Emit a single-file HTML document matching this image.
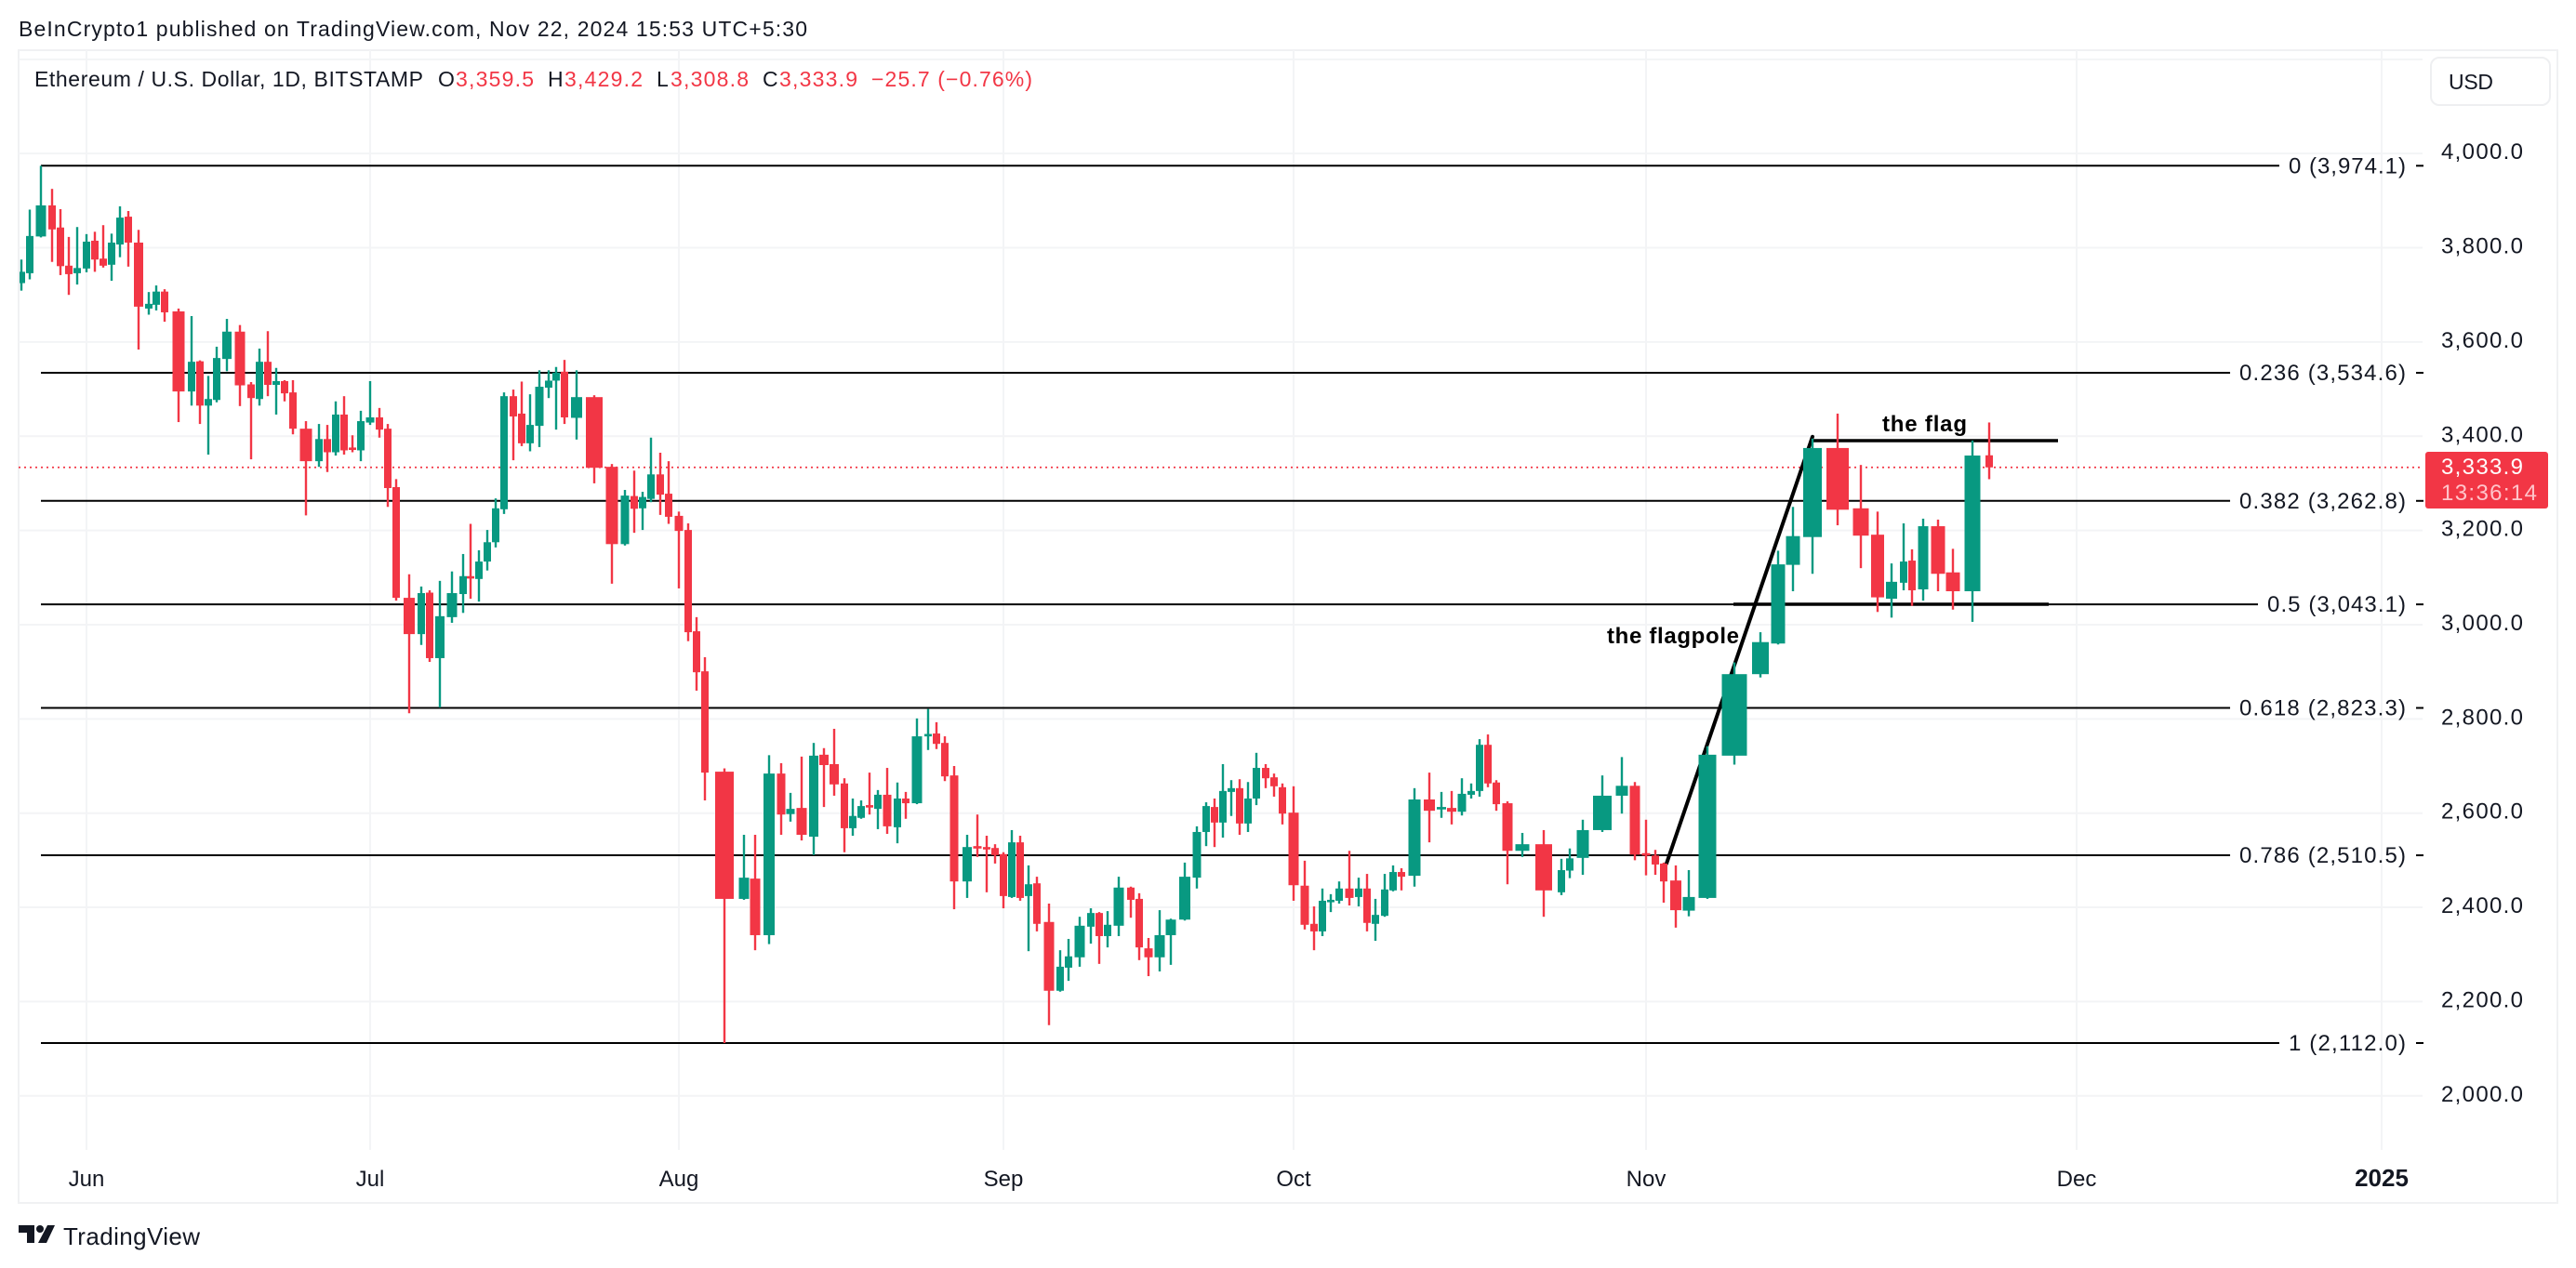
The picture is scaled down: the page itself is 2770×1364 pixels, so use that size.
<!DOCTYPE html>
<html lang="en">
<head>
<meta charset="utf-8">
<title>Ethereum / U.S. Dollar chart</title>
<style>
html,body{margin:0;padding:0;background:#fff}
svg{display:block;font-family:"Liberation Sans",sans-serif}
</style>
</head>
<body>
<svg id="chart" xmlns="http://www.w3.org/2000/svg" width="2770" height="1364" viewBox="0 0 2770 1364">
  <rect x="0" y="0" width="2770" height="1364" fill="#ffffff"/>
  <text x="20" y="39" font-size="23" fill="#131722" textLength="848" lengthAdjust="spacing">BeInCrypto1 published on TradingView.com, Nov 22, 2024 15:53 UTC+5:30</text>
  <rect x="20" y="54" width="2730" height="1240" fill="none" stroke="#f0f1f3" stroke-width="2"/>
  <defs><clipPath id="plot-clip"><rect x="21" y="55" width="2584" height="1182"/></clipPath></defs>
  <g id="grid"></g>
  <g id="levels"></g>
  <g id="annotations"></g>
  <g id="candles" clip-path="url(#plot-clip)"></g>
  <g id="axis-y"></g>
  <g id="axis-x"></g>

  <g font-size="23">
    <text x="37" y="93" fill="#131722" textLength="418" lengthAdjust="spacing">Ethereum / U.S. Dollar, 1D, BITSTAMP</text>
    <text x="471" y="93" fill="#131722">O</text>
    <text x="490" y="93" fill="#f23645" textLength="84" lengthAdjust="spacing">3,359.5</text>
    <text x="589" y="93" fill="#131722">H</text>
    <text x="607" y="93" fill="#f23645" textLength="84" lengthAdjust="spacing">3,429.2</text>
    <text x="706" y="93" fill="#131722">L</text>
    <text x="721" y="93" fill="#f23645" textLength="84" lengthAdjust="spacing">3,308.8</text>
    <text x="820" y="93" fill="#131722">C</text>
    <text x="838" y="93" fill="#f23645" textLength="84" lengthAdjust="spacing">3,333.9</text>
    <text x="937" y="93" fill="#f23645" textLength="173" lengthAdjust="spacing">−25.7 (−0.76%)</text>
  </g>

  <g>
    <rect x="2614" y="62" width="128" height="51" rx="9" fill="#ffffff" stroke="#eeeff1" stroke-width="2"/>
    <text x="2633" y="96" font-size="23" fill="#131722" textLength="48" lengthAdjust="spacing">USD</text>
  </g>

  <g>
    <rect x="2608" y="486" width="132" height="61" rx="3" fill="#f23645"/>
    <text x="2625" y="510" font-size="24" fill="#ffffff" textLength="88" lengthAdjust="spacing">3,333.9</text>
    <text x="2625" y="538" font-size="24" fill="#ffc4ca" textLength="103" lengthAdjust="spacing">13:36:14</text>
  </g>

  <g>
    <path fill="#131722" d="M20 1318h17v19h-8v-11h-9z M51 1318h8l-9 19h-9z"/>
    <circle cx="43" cy="1322" r="4" fill="#131722"/>
    <text x="68" y="1339" font-size="26" fill="#131722" textLength="147" lengthAdjust="spacing">TradingView</text>
  </g>
</svg>

<script>
// Bar position on the chart's time axis, in days from 1 June
var barDays = [-7.0,-6.1,-4.9,-3.7,-2.8,-1.9,-1.0,0,0.9,1.8,2.7,3.6,4.5,5.6,6.7,7.5,8.4,9.9,11.3,12.2,13.1,14.0,15.1,16.5,17.7,18.6,19.5,20.4,21.3,22.2,23.6,25.0,25.9,26.8,27.7,28.6,29.5,30.5,31.5,32.4,33.3,34.7,
36.0,36.9,38.0,39.3,40.5,41.3,42.2,43.1,44.0,44.9,45.9,46.8,47.7,48.7,49.7,50.5,51.4,52.7,54.6,56.5,57.9,58.9,59.8,60.7,61.7,62.6,63.7,64.7,65.6,66.5,68.6,70.7,71.9,73.4,74.7,
75.7,76.9,78.2,79.3,80.4,81.5,82.4,83.3,84.2,85.1,86.1,87.2,88.1,89.3,90.5,91.4,92.3,93.3,94.7,95.8,96.8,97.7,98.6,99.5,100.4,101.3,102.2,103.5,104.7,105.6,106.8,108.0,108.9,109.8,111.0,112.3,113.2,114.2,115.4,116.6,118.1,119.4,120.4,121.3,122.2,123.1,124.0,124.9,125.8,126.8,127.7,128.6,129.8,131.0,132.0,132.9,133.8,134.7,135.8,136.8,137.7,138.6,139.6,140.5,141.4,142.8,144.4,145.7,146.8,147.9,148.9,149.8,150.7,151.6,152.8,154.4,156.7,
158.6,159.5,160.9,163.0,165.1,166.5,167.7,168.7,169.6,170.9,172.3,174.3,177.2,180.0,181.9,183.5,185.6,188.3,190.8,192.6,194.1,195.4,196.3,197.5,199.1,200.7,202.8,204.6];

var barOpens = [3725,3746,3824,3890,3843,3762,3746,3756,3815,3777,3764,3807,3866,3811,3671,3679,3707,3665,3495,3559,3465,3477,3564,3622,3510,3479,3558,3509,3517,3493,3416,3347,3394,3366,3446,3376,3370,3429,3440,3416,3292,3057,
2980,3068,2929,3016,3065,3103,3097,3134,3175,3245,3485,3448,3385,3422,3503,3518,3537,3439,3483,3335,3171,3273,3247,3267,3319,3278,3231,3201,2986,2901,2688,2418,2461,2341,2684,
2598,2611,2550,2724,2704,2663,2568,2590,2617,2609,2639,2570,2631,2621,2765,2769,2749,2680,2455,2530,2528,2526,2513,2422,2538,2424,2451,2369,2223,2272,2294,2359,2388,2339,2361,2442,2418,2313,2294,2341,2374,2463,2560,2613,2580,2645,2653,2578,2631,2696,2676,2655,2601,2446,2365,2349,2413,2414,2440,2422,2440,2365,2382,2436,2475,2467,2629,2609,2611,2603,2639,2647,2745,2665,2621,2520,2534,2432,
2478,2505,2564,2637,2658,2515,2510,2493,2457,2393,2420,2722,2895,2960,3127,3186,3375,3247,3191,3055,3089,3136,3075,3209,3111,3071,3359.5];

var barHighs = [3775,3881,3974,3925,3882,3823,3844,3829,3834,3848,3830,3888,3878,3838,3706,3720,3712,3671,3655,3561,3528,3590,3649,3636,3515,3586,3623,3545,3519,3519,3432,3426,3424,3474,3485,3402,3454,3517,3460,3426,3309,3107,
3081,3073,3093,3113,3150,3214,3158,3201,3268,3493,3499,3516,3489,3540,3540,3547,3562,3540,3487,3341,3286,3327,3282,3397,3365,3347,3240,3215,3016,2931,2695,2554,2554,2723,2706,
2643,2720,2749,2738,2779,2674,2631,2627,2686,2649,2696,2665,2645,2801,2821,2793,2763,2700,2554,2597,2552,2534,2517,2564,2552,2489,2465,2408,2309,2333,2380,2398,2390,2392,2465,2444,2430,2335,2394,2376,2495,2572,2623,2631,2704,2670,2672,2666,2728,2704,2684,2663,2657,2499,2402,2440,2428,2455,2520,2463,2471,2418,2471,2489,2483,2653,2686,2645,2647,2674,2663,2757,2767,2670,2625,2558,2564,2503,
2525,2586,2680,2719,2666,2586,2522,2495,2489,2479,2742,2920,2984,3157,3250,3395,3448,3339,3240,3130,3215,3160,3225,3223,3161,3391,3429.2];

var barLows = [3709,3733,3822,3770,3742,3700,3722,3748,3749,3758,3730,3780,3760,3584,3658,3667,3643,3430,3465,3426,3361,3472,3538,3464,3351,3465,3485,3446,3474,3404,3232,3335,3324,3359,3361,3366,3347,3424,3397,3250,3051,2812,
2957,2921,2824,3004,3025,3055,3049,3115,3164,3235,3349,3379,3368,3377,3481,3414,3426,3393,3300,3087,3168,3195,3201,3260,3233,3214,3077,2965,2860,2627,2112,2416,2309,2322,2554,
2582,2542,2511,2613,2637,2517,2552,2588,2597,2566,2556,2536,2588,2619,2734,2736,2668,2396,2420,2507,2432,2493,2398,2420,2414,2307,2349,2150,2221,2244,2274,2323,2280,2315,2339,2378,2288,2254,2264,2278,2372,2440,2530,2528,2548,2594,2554,2560,2617,2653,2635,2576,2414,2353,2309,2339,2390,2408,2404,2402,2349,2329,2380,2434,2436,2444,2538,2590,2576,2595,2631,2635,2655,2605,2449,2507,2380,2426,
2462,2469,2560,2599,2500,2468,2469,2410,2357,2381,2418,2703,2888,2958,3071,3108,3211,3120,3027,3015,3073,3040,3051,3071,3032,3006,3308.8];

var barCloses = [3749,3825,3890,3839,3761,3744,3757,3813,3775,3762,3811,3864,3811,3675,3681,3707,3663,3495,3558,3465,3479,3566,3622,3508,3481,3558,3509,3517,3491,3416,3347,3394,3366,3446,3370,3374,3432,3440,3414,3290,3057,2980,
3067,2929,3018,3067,3103,3100,3134,3175,3247,3485,3442,3385,3424,3505,3518,3535,3440,3483,3333,3171,3274,3246,3271,3319,3276,3229,3199,2984,2899,2686,2418,2463,2341,2684,2597,
2609,2554,2722,2702,2661,2568,2594,2615,2615,2639,2572,2631,2621,2763,2768,2747,2678,2455,2528,2527,2525,2511,2424,2538,2420,2449,2365,2223,2274,2296,2361,2388,2339,2363,2442,2416,2315,2294,2341,2374,2465,2560,2615,2580,2647,2653,2578,2631,2696,2674,2657,2599,2447,2363,2349,2414,2416,2440,2420,2440,2367,2384,2438,2475,2465,2629,2605,2613,2603,2641,2647,2745,2663,2619,2520,2534,2436,2479,
2504,2564,2637,2658,2512,2513,2491,2455,2394,2422,2724,2895,2963,3128,3188,3375,3244,3189,3058,3091,3134,3073,3209,3108,3071,3359,3333.9];

var priceTicks = [2000,2200,2400,2600,2800,3000,3200,3400,3600,3800,4000];
var priceTickLabels = ['2,000.0','2,200.0','2,400.0','2,600.0','2,800.0','3,000.0','3,200.0','3,400.0','3,600.0','3,800.0','4,000.0'];
var extraGridPrices = [4200];
var timeTickDays = [0,30.5,63.7,98.6,129.8,167.7,214.0,246.8];
var timeTickLabels = ['Jun','Jul','Aug','Sep','Oct','Nov','Dec','2025'];
var fibRatios = ['0','0.236','0.382','0.5','0.618','0.786','1'];
var fibPrices = [3974.1,3534.6,3262.8,3043.1,2823.3,2510.5,2112.0];
var fibLabels = ['0 (3,974.1)','0.236 (3,534.6)','0.382 (3,262.8)','0.5 (3,043.1)','0.618 (2,823.3)','0.786 (2,510.5)','1 (2,112.0)'];
var fibStartDay = -4.9;
var lastPrice = 3333.9;
var flagpoleDays = [169.9,185.6];
var flagpolePrices = [2493,3399];
var flagTopDays = [185.6,212.0];
var flagTopPrice = 3390.7;
var flagBottomDays = [177.1,211.0];
var flagBottomPrice = 3043.3;

var UP = '#089981', DOWN = '#f23645', INK = '#131722', GRID = '#f3f4f6';
var PLOT_LEFT = 20, PLOT_RIGHT = 2605, PLOT_TOP = 54, PLOT_BOTTOM = 1237;
function xScale(day){ return 93 + day * 10; }
function yScale(price){ return 178.3 + (3974.1 - price) * 0.5068; }

var NS = 'http://www.w3.org/2000/svg';
function make(tag, parent, props, text){
  var el = document.createElementNS(NS, tag);
  for (var k in props) el.setAttribute(k, props[k]);
  if (text !== undefined) el.textContent = text;
  parent.appendChild(el);
  return el;
}

var gridG = document.getElementById('grid');
var levelsG = document.getElementById('levels');
var annoG = document.getElementById('annotations');
var candlesG = document.getElementById('candles');
var axisY = document.getElementById('axis-y');
var axisX = document.getElementById('axis-x');

// Grid
priceTicks.concat(extraGridPrices).forEach(function(p){
  var line = make('line', gridG, {x1:PLOT_LEFT, x2:PLOT_RIGHT, y1:yScale(p), y2:yScale(p), stroke:GRID, 'stroke-width':2});
  
  
});
timeTickDays.forEach(function(d){
  var line = make('line', gridG, {x1:xScale(d), x2:xScale(d), y1:PLOT_TOP, y2:PLOT_BOTTOM, stroke:GRID, 'stroke-width':2});
  
  
});

// Axis labels
priceTicks.forEach(function(p, i){
  var t = make('text', axisY, {x:2625, y:yScale(p) + 6, 'font-size':24, fill:INK, textLength:88, lengthAdjust:'spacing'}, priceTickLabels[i]);
  
  
});
timeTickDays.forEach(function(d, i){
  var isYear = timeTickLabels[i] === '2025';
  var t = make('text', axisX, {x:xScale(d), y:1276, 'font-size':isYear ? 26 : 24, fill:INK, 'text-anchor':'middle', 'font-weight':isYear ? 'bold' : 'normal'}, timeTickLabels[i]);
  
  
});

// Last price line
var lastLine = make('line', levelsG, {x1:PLOT_LEFT, x2:PLOT_RIGHT, y1:yScale(lastPrice), y2:yScale(lastPrice), stroke:DOWN, 'stroke-width':1.8, 'stroke-dasharray':'2 4'});



// Fibonacci levels
fibPrices.forEach(function(p, i){
  var y = yScale(p);
  var label = fibLabels[i];
  var labelWidth = label.length * (label.length > 13 ? 11.93 : 11.46);
  var labelLeft = 2587 - labelWidth;
  var seg = make('line', levelsG, {x1:xScale(fibStartDay), x2:labelLeft - 10, y1:y, y2:y, stroke:'#000', 'stroke-width':2});
  
  
  var dash = make('line', levelsG, {x1:2598, x2:2606, y1:y, y2:y, stroke:'#000', 'stroke-width':2});
  
  
  var t = make('text', levelsG, {x:labelLeft, y:y + 8, 'font-size':24, fill:INK, textLength:labelWidth, lengthAdjust:'spacing'}, label);
  
  
});

// Flag drawings
var pole = make('line', annoG, {x1:xScale(flagpoleDays[0]), y1:yScale(flagpolePrices[0]), x2:xScale(flagpoleDays[1]), y2:yScale(flagpolePrices[1]), stroke:'#000', 'stroke-width':4, 'stroke-linecap':'round'});


var flagTop = make('line', annoG, {x1:xScale(flagTopDays[0]), y1:yScale(flagTopPrice), x2:xScale(flagTopDays[1]), y2:yScale(flagTopPrice), stroke:'#000', 'stroke-width':3.5});


var flagBottom = make('line', annoG, {x1:xScale(flagBottomDays[0]), y1:yScale(flagBottomPrice), x2:xScale(flagBottomDays[1]), y2:yScale(flagBottomPrice), stroke:'#000', 'stroke-width':3.5});


var poleText = make('text', annoG, {x:1728, y:692, 'font-size':24, 'font-weight':'bold', fill:'#000', textLength:142, lengthAdjust:'spacing'}, 'the flagpole');


var flagText = make('text', annoG, {x:2024, y:464, 'font-size':24, 'font-weight':'bold', fill:'#000', textLength:91, lengthAdjust:'spacing'}, 'the flag');



// Candles: body width follows the local bar spacing on the time axis
var barCount = Math.min(barDays.length, barOpens.length, barHighs.length, barLows.length, barCloses.length);
for (var i = 0; i < barCount; i++){
  var cx = xScale(barDays[i]);
  var gaps = [];
  if (i > 0) gaps.push(cx - xScale(barDays[i - 1]));
  if (i < barCount - 1) gaps.push(xScale(barDays[i + 1]) - cx);
  if (i === barCount - 1) gaps.push(9);
  var bodyW = Math.max(8, Math.min.apply(null, gaps) - 1);
  var barColor = barCloses[i] >= barOpens[i] ? UP : DOWN;
  var bodyTop = yScale(Math.max(barOpens[i], barCloses[i]));
  var bodyBottom = yScale(Math.min(barOpens[i], barCloses[i]));
  var candleG = make('g', candlesG, {});
  
  
  var wick = make('rect', candleG, {x:cx - 1.2, width:2.4, y:yScale(barHighs[i]), height:yScale(barLows[i]) - yScale(barHighs[i]), fill:barColor});
  
  
  var bodyRect = make('rect', candleG, {x:cx - bodyW / 2, width:bodyW, y:bodyTop, height:Math.max(2.6, bodyBottom - bodyTop), fill:barColor});
  
  
}
</script>
</body>
</html>
